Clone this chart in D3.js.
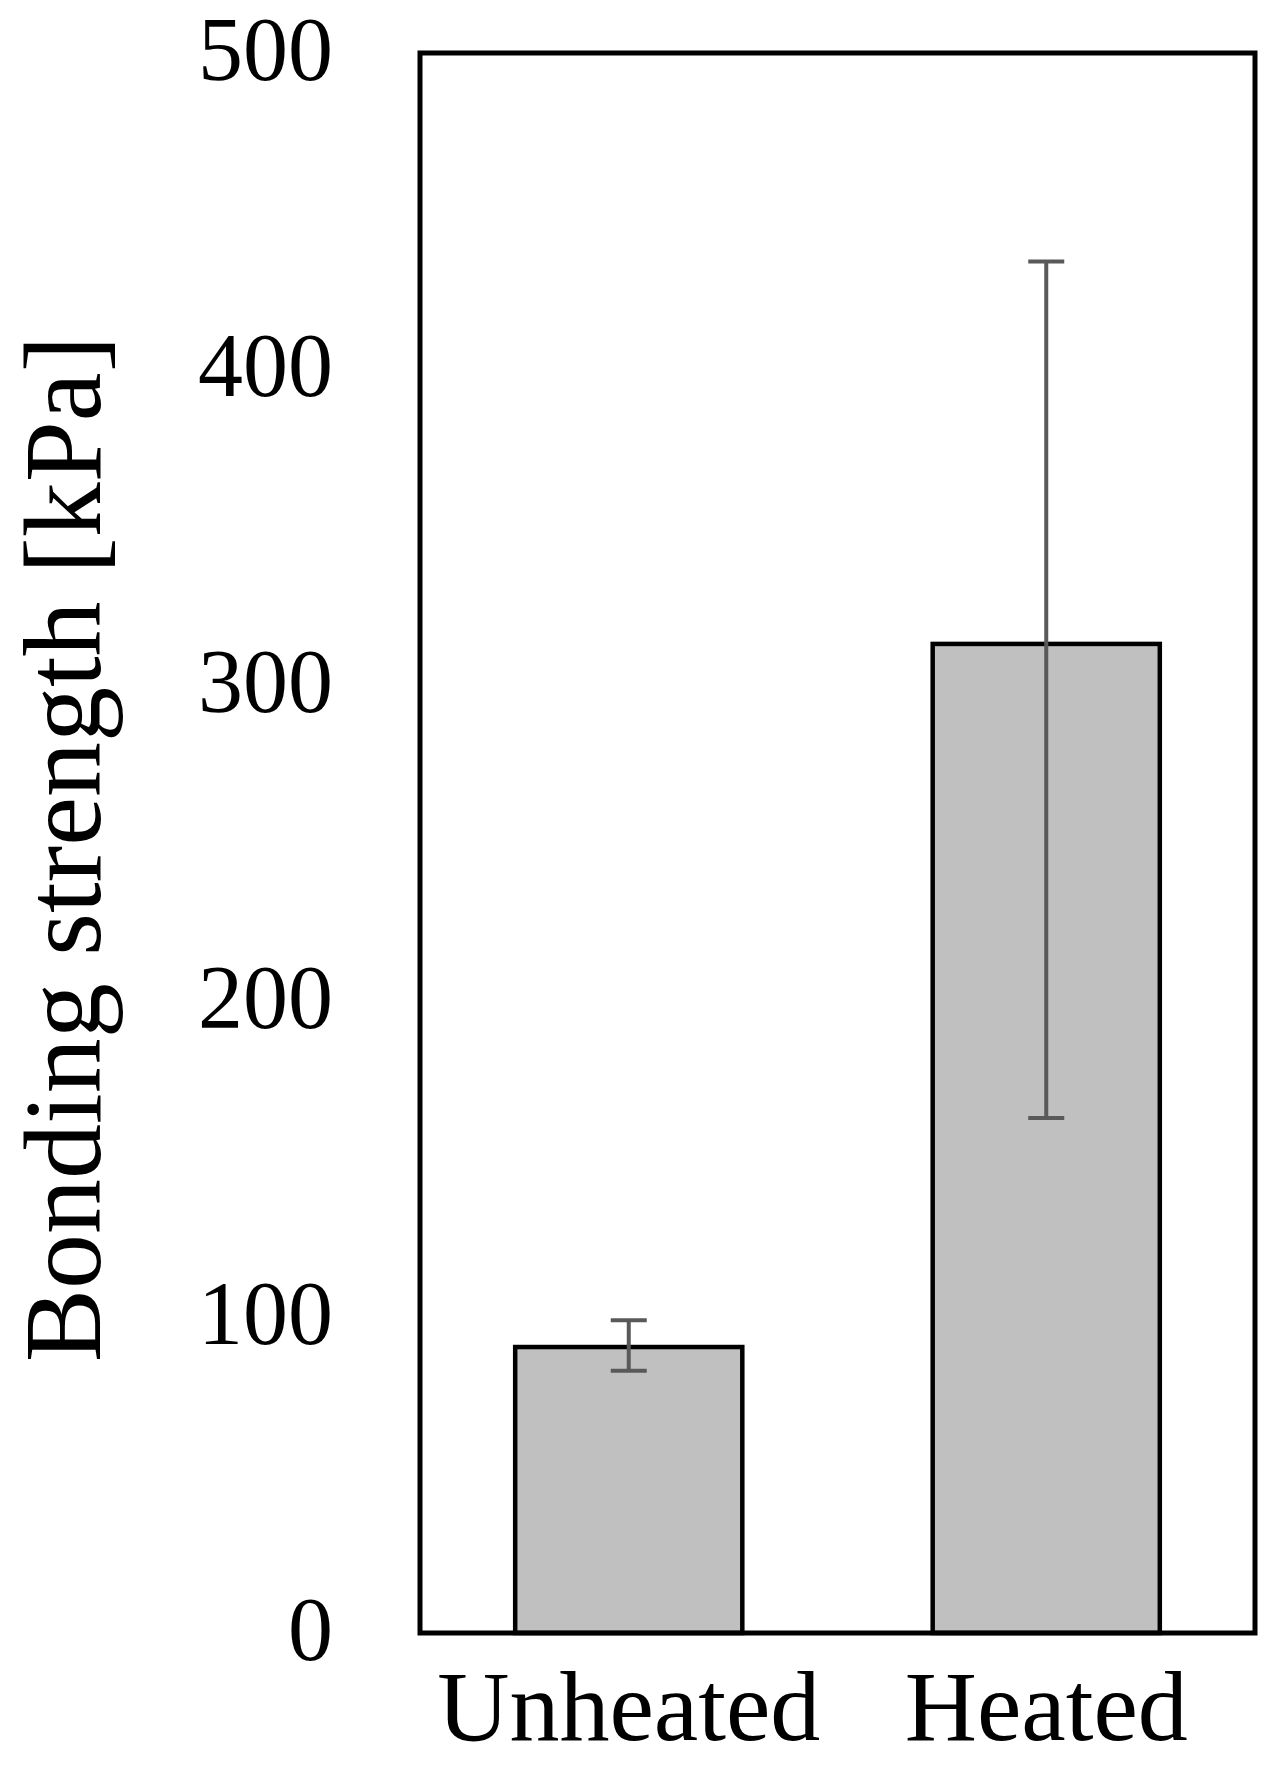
<!DOCTYPE html>
<html>
<head>
<meta charset="utf-8">
<script src="https://cdn.jsdelivr.net/npm/d3@7"></script>
<style>
  body { margin: 0; background: #fff; }
  text { font-family: "Liberation Serif", "Times New Roman", serif; fill: #000; }
</style>
</head>
<body>
<script>
var categories = ["Unheated", "Heated"];
var means = [90.5, 313];
var errLow = [83, 163];
var errHigh = [99, 434];
var yTicks = [0, 100, 200, 300, 400, 500];

var margin = { top: 53, right: 25, bottom: 135, left: 420 },
  width = 1280 - margin.left - margin.right,
  height = 1768 - margin.top - margin.bottom;

var x = d3.scaleBand().domain(categories).range([0, width]).paddingInner(0.456).paddingOuter(0.228);
var y = d3.scaleLinear().domain([0, 500]).range([height, 0]);

var svg = d3
  .select("body")
  .append("svg")
  .attr("width", 1280)
  .attr("height", 1768)
  .append("g")
  .attr("transform", "translate(" + margin.left + "," + margin.top + ")");

// bars
svg
  .selectAll(".bar")
  .data(categories)
  .enter()
  .append("rect")
  .attr("class", "bar")
  .attr("x", function (d) { return x(d); })
  .attr("width", x.bandwidth())
  .attr("y", function (d, i) { return y(means[i]); })
  .attr("height", function (d, i) { return height - y(means[i]); })
  .style("fill", "#c0c0c0")
  .style("stroke", "#000")
  .style("stroke-width", 4.5);

// error bars
var err = svg.selectAll(".err").data(categories).enter().append("g").attr("class", "err")
  .style("stroke", "#595959").style("stroke-width", 4);

err.append("line")
  .attr("x1", function (d) { return x(d) + x.bandwidth() / 2; })
  .attr("x2", function (d) { return x(d) + x.bandwidth() / 2; })
  .attr("y1", function (d, i) { return y(errLow[i]); })
  .attr("y2", function (d, i) { return y(errHigh[i]); });

[errLow, errHigh].forEach(function (arr) {
  err.append("line")
    .attr("x1", function (d) { return x(d) + x.bandwidth() / 2 - 18; })
    .attr("x2", function (d) { return x(d) + x.bandwidth() / 2 + 18; })
    .attr("y1", function (d, i) { return y(arr[i]); })
    .attr("y2", function (d, i) { return y(arr[i]); });
});

// axes
var yAxis = d3.axisLeft(y).tickValues(yTicks).tickSize(0).tickPadding(87);
var gy = svg.append("g").call(yAxis);
gy.select(".domain").remove();
gy.selectAll("text")
  .attr("dy", "0.29em")
  .style("font-size", "90px")
  .style("font-family", "Liberation Serif");

var xAxis = d3.axisBottom(x).tickSize(0);
var gx = svg.append("g").attr("transform", "translate(0," + height + ")").call(xAxis);
gx.select(".domain").remove();
gx.selectAll("text")
  .attr("y", 107)
  .attr("dy", 0)
  .style("font-size", "100px")
  .style("font-family", "Liberation Serif");

// frame
svg.append("rect")
  .attr("width", width)
  .attr("height", height)
  .style("fill", "none")
  .style("stroke", "#000")
  .style("stroke-width", 5);

// y label
svg.append("text")
  .attr("transform", "translate(" + (100 - margin.left) + "," + (849 - margin.top) + ") rotate(-90)")
  .style("text-anchor", "middle")
  .style("font-size", "110px")
  .text("Bonding strength [kPa]");
</script>
</body>
</html>
